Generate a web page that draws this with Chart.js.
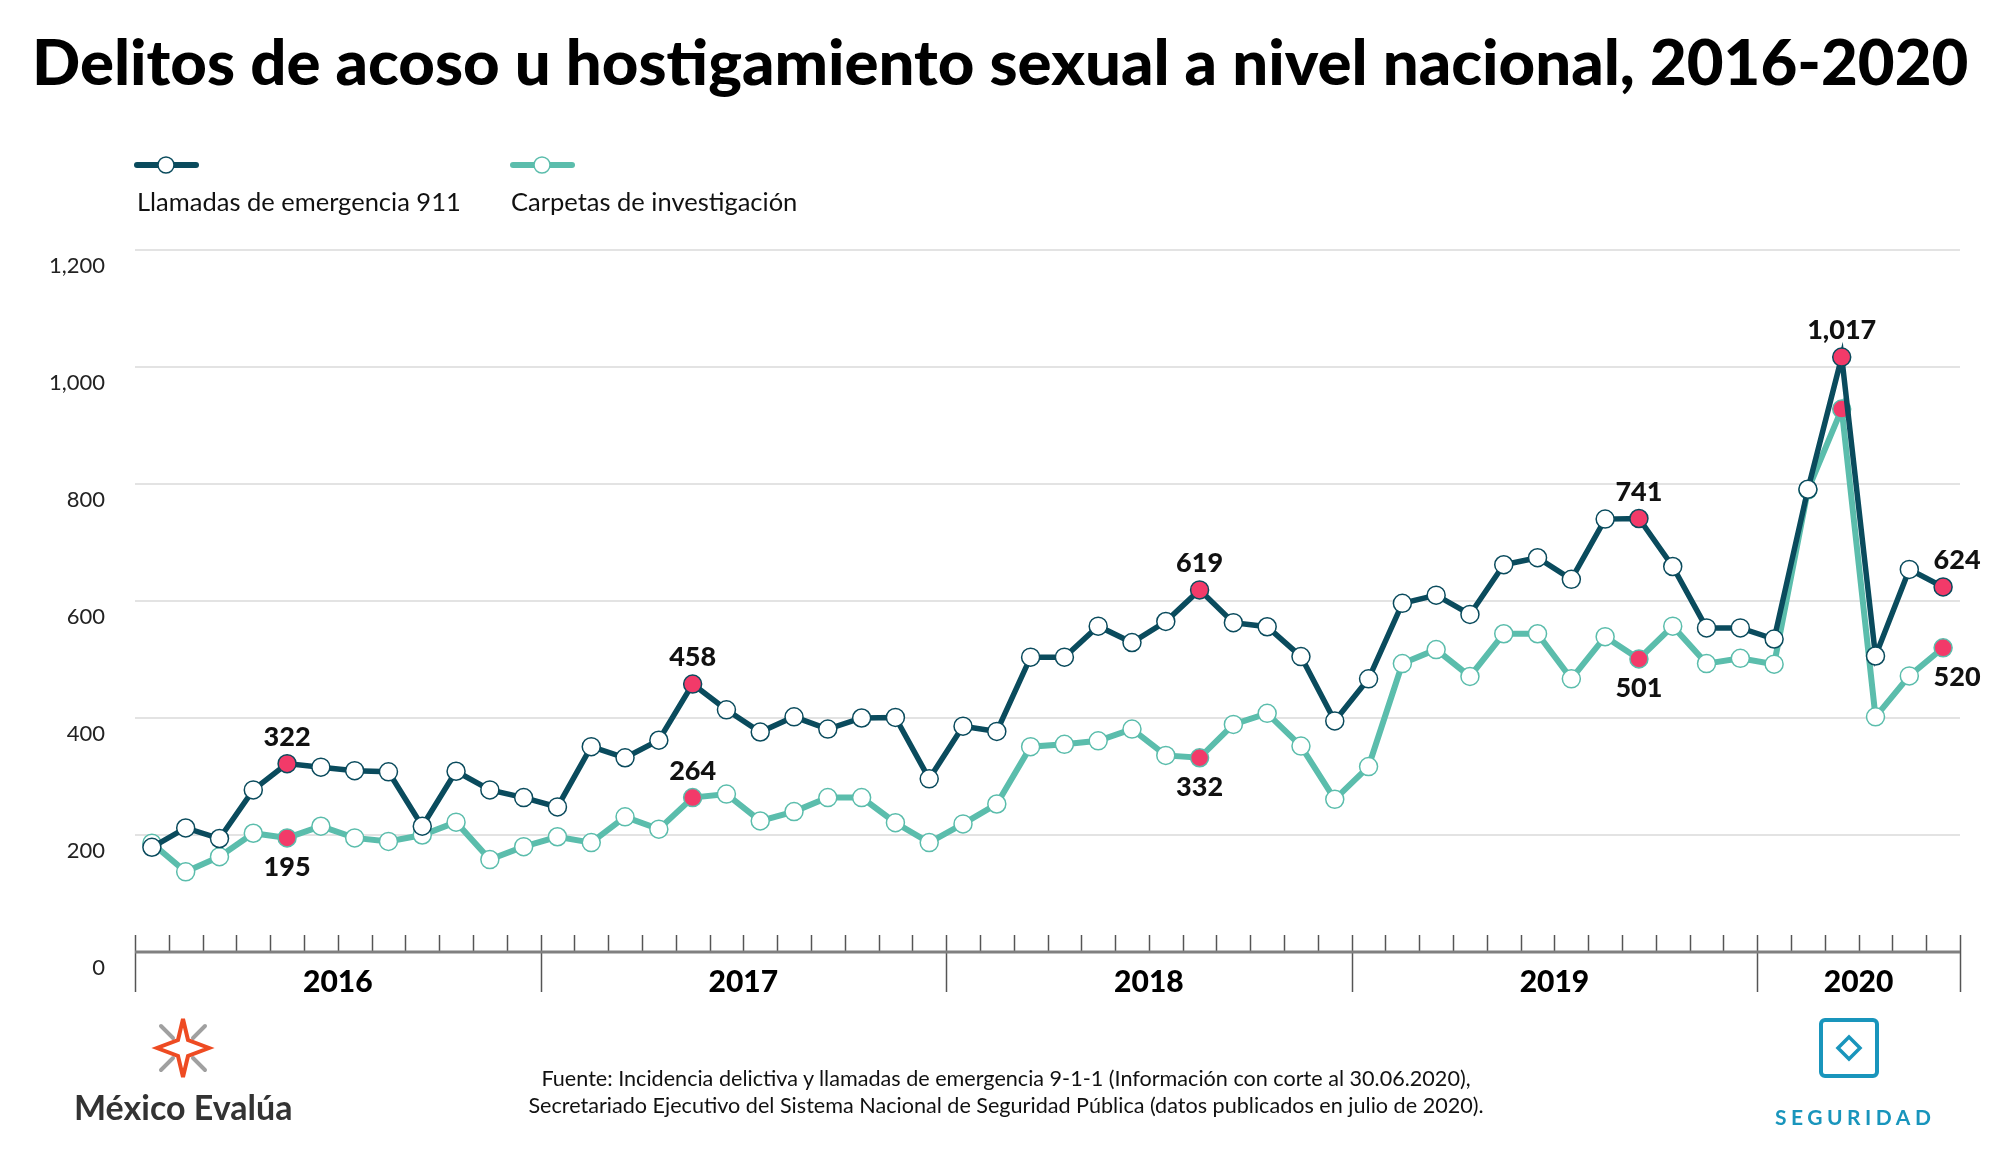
<!DOCTYPE html>
<html lang="es"><head><meta charset="utf-8">
<script src="https://cdn.jsdelivr.net/npm/chart.js@4.4.1/dist/chart.umd.min.js"></script>
<style>
html,body{margin:0;padding:0;background:#fff;}
#wrap{position:relative;width:2000px;height:1149px;overflow:hidden;font-family:Lato,"Noto Sans",sans-serif;background:#fff;}
#c{position:absolute;left:0;top:0;}
#title{position:absolute;left:32px;top:22px;font-weight:900;font-size:63.5px;color:#000;white-space:nowrap;letter-spacing:0px;}
.leg{position:absolute;font-size:25.5px;color:#111;white-space:nowrap;}
.legsym{position:absolute;}
#src{position:absolute;left:0;width:2012px;top:1065px;text-align:center;font-size:21.6px;line-height:27px;color:#111;}
#me{position:absolute;left:74px;top:1086px;font-size:34px;font-weight:700;color:#333;white-space:nowrap;}
#seg{position:absolute;left:1775px;top:1104px;font-size:21px;letter-spacing:4.5px;color:#1995bc;font-weight:700;white-space:nowrap;}
</style></head>
<body>
<div id="wrap">
<canvas id="c" width="2000" height="1149"></canvas>
<div id="title">Delitos de acoso u hostigamiento sexual a nivel nacional, 2016-2020</div>
<svg class="legsym" style="left:130px;top:150px" width="80" height="30"><line x1="7" y1="15" x2="66" y2="15" stroke="#0a4b5d" stroke-width="6" stroke-linecap="round"/><circle cx="36" cy="15" r="8" fill="#fff" stroke="#0a4b5d" stroke-width="1.5"/></svg>
<div class="leg" style="left:137px;top:186px">Llamadas de emergencia 911</div>
<svg class="legsym" style="left:506px;top:150px" width="80" height="30"><line x1="7" y1="15" x2="66" y2="15" stroke="#5bbdac" stroke-width="6" stroke-linecap="round"/><circle cx="36" cy="15" r="8" fill="#fff" stroke="#5bbdac" stroke-width="1.5"/></svg>
<div class="leg" style="left:511px;top:186px">Carpetas de investigación</div>
<div id="src">Fuente: Incidencia delictiva y llamadas de emergencia 9-1-1 (Información con corte al 30.06.2020),<br>Secretariado Ejecutivo del Sistema Nacional de Seguridad Pública (datos publicados en julio de 2020).</div>
<svg style="position:absolute;left:150px;top:1016px" width="66" height="64" viewBox="0 0 66 64">
  <g fill="none" stroke-width="4" stroke-linejoin="miter">
    <path d="M11 10 L23 22 M55 10 L43 22 M11 54 L23 42 M55 54 L43 42" stroke="#a0a0a0" stroke-linecap="round"/>
    <path d="M33 3 L38 24 L59 32 L38 40 L33 61 L28 40 L7 32 L28 24 Z" stroke="#ee4b22"/>
  </g>
</svg>
<div id="me">México Evalúa</div>
<svg style="position:absolute;left:1818px;top:1017px" width="62" height="62" viewBox="0 0 62 62">
  <rect x="3" y="3" width="56" height="56" rx="4" fill="none" stroke="#1995bc" stroke-width="4"/>
  <path d="M31 20 L42 31 L31 42 L20 31 Z" fill="none" stroke="#1995bc" stroke-width="3.5"/>
</svg>
<div id="seg">SEGURIDAD</div>
</div>
<script>
const categories = [
 'Ene-16','Feb-16','Mar-16','Abr-16','May-16','Jun-16','Jul-16','Ago-16','Sep-16','Oct-16','Nov-16','Dic-16',
 'Ene-17','Feb-17','Mar-17','Abr-17','May-17','Jun-17','Jul-17','Ago-17','Sep-17','Oct-17','Nov-17','Dic-17',
 'Ene-18','Feb-18','Mar-18','Abr-18','May-18','Jun-18','Jul-18','Ago-18','Sep-18','Oct-18','Nov-18','Dic-18',
 'Ene-19','Feb-19','Mar-19','Abr-19','May-19','Jun-19','Jul-19','Ago-19','Sep-19','Oct-19','Nov-19','Dic-19',
 'Ene-20','Feb-20','Mar-20','Abr-20','May-20','Jun-20'];
const years = ['2016','2017','2018','2019','2020'];
const llamadas911 = [
 179,212,194,277,322,316,310,308,215,309,277,264,
 248,351,332,362,458,414,376,402,381,400,401,296,
 386,377,504,504,557,529,565,619,563,556,505,395,
 467,596,610,577,662,674,637,740,741,659,554,554,
 535,791,1017,506,654,624];
const carpetas = [
 186,137,163,203,195,215,195,189,200,222,158,180,
 197,187,231,210,264,270,224,240,264,264,221,187,
 219,253,351,355,361,381,336,332,389,408,352,261,
 317,493,517,471,544,544,467,539,501,557,493,502,
 492,790,928,402,472,520];
const highlighted = ['May-16','May-17','Ago-18','Sep-19','Mar-20','Jun-20'];
const yTicks = [0,200,400,600,800,1000,1200];
const yTickLabels = ['0','200','400','600','800','1,000','1,200'];
// labels: series, category, placement
const valueLabels = [
 {s:0,c:'May-16',pos:'above'},{s:0,c:'May-17',pos:'above'},{s:0,c:'Ago-18',pos:'above'},
 {s:0,c:'Sep-19',pos:'above'},{s:0,c:'Mar-20',pos:'above'},{s:0,c:'Jun-20',pos:'above',dx:14},
 {s:1,c:'May-16',pos:'below'},{s:1,c:'May-17',pos:'above'},{s:1,c:'Ago-18',pos:'below'},
 {s:1,c:'Sep-19',pos:'below'},{s:1,c:'Jun-20',pos:'below',dx:14}];

const DARK='#0a4b5d', TEAL='#5bbdac', RED='#f23a69';
const FONT='Lato, "Noto Sans", sans-serif';
const fmt = v => v.toLocaleString('en-US');
const ptFill = () => categories.map(c => highlighted.includes(c) ? RED : '#ffffff');

const xAxisPlugin = {
  id:'xAxisDeco',
  afterDraw(chart){
    const {ctx, chartArea:a, scales:{x}} = chart;
    const step = x.getPixelForValue(1) - x.getPixelForValue(0);
    const yb = a.bottom;
    ctx.save();
    ctx.strokeStyle='#555'; ctx.lineWidth=1.5;
    for(let i=0;i<=categories.length;i++){
      const px = Math.round(x.getPixelForValue(Math.min(i,categories.length-1)) + (i===categories.length? step/2 : -step/2))+0.5;
      const yr = i===categories.length || i===0 || categories[i].slice(-2)!==categories[i-1].slice(-2);
      ctx.beginPath(); ctx.moveTo(px, yb-17); ctx.lineTo(px, yr? yb+40 : yb); ctx.stroke();
    }
    ctx.strokeStyle='#808080'; ctx.lineWidth=3;
    ctx.beginPath(); ctx.moveTo(a.left, yb); ctx.lineTo(a.right, yb); ctx.stroke();
    ctx.fillStyle='#000'; ctx.font='900 30px '+FONT; ctx.textAlign='center'; ctx.textBaseline='middle';
    years.forEach(y=>{
      const idx = categories.map((c,i)=>c.slice(-2)===y.slice(-2)?i:-1).filter(i=>i>=0);
      const cx = (x.getPixelForValue(idx[0]) + x.getPixelForValue(idx[idx.length-1]))/2;
      ctx.fillText(y, cx, yb+30);
    });
    ctx.restore();
  },
};
const labelPlugin = {
  id:'valueLabels',
  afterDatasetsDraw(chart){
    const {ctx} = chart;
    ctx.save();
    ctx.fillStyle='#111'; ctx.font='900 27px '+FONT; ctx.textAlign='center';
    valueLabels.forEach(l=>{
      const i = categories.indexOf(l.c);
      const pt = chart.getDatasetMeta(l.s).data[i];
      const v = chart.data.datasets[l.s].data[i];
      const px = pt.x + (l.dx||0);
      if(l.pos==='above'){ ctx.textBaseline='alphabetic'; ctx.fillText(fmt(v), px, pt.y-18); }
      else { ctx.textBaseline='top'; ctx.fillText(fmt(v), px, pt.y+16); }
    });
    ctx.restore();
  }
};

new Chart(document.getElementById('c'), {
  type:'line',
  data:{
    labels:categories,
    datasets:[
      {label:'Llamadas de emergencia 911', data:llamadas911, borderColor:DARK, borderWidth:5.5,
       pointRadius:9, pointHoverRadius:9, pointBorderWidth:1.5, pointBorderColor:DARK, pointBackgroundColor:ptFill(), tension:0},
      {label:'Carpetas de investigación', data:carpetas, borderColor:TEAL, borderWidth:6,
       pointRadius:9, pointHoverRadius:9, pointBorderWidth:1.5, pointBorderColor:TEAL, pointBackgroundColor:ptFill(), tension:0}
    ]
  },
  options:{
    responsive:false, animation:false, devicePixelRatio:1,
    layout:{padding:{top:250,left:0,right:40,bottom:197}},
    plugins:{legend:{display:false}, tooltip:{enabled:false}, title:{display:false}},
    scales:{
      x:{type:'category', display:false, offset:true},
      y:{min:0,max:1200,
         afterBuildTicks(s){ s.ticks = yTicks.map(v=>({value:v})); },
         afterFit(s){ s.width = 135; },
         border:{display:false},
         grid:{drawTicks:false, lineWidth:2, color:c=> c.tick && c.tick.value===0 ? 'rgba(0,0,0,0)' : '#e3e3e3'},
         ticks:{padding:30, labelOffset:16, color:'#222', font:{family:FONT, size:22},
                callback:(v)=> yTickLabels[yTicks.indexOf(v)]}
      }
    }
  },
  plugins:[xAxisPlugin, labelPlugin]
});
</script>
</body></html>
